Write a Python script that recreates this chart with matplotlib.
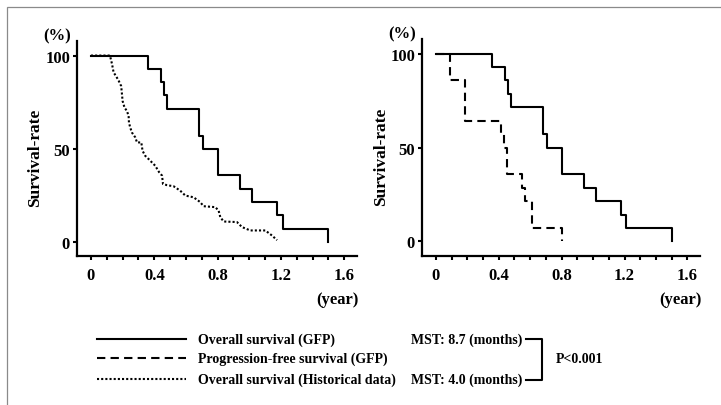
import matplotlib
matplotlib.use("Agg")
import matplotlib.pyplot as plt
from matplotlib.lines import Line2D
from matplotlib.patches import Rectangle
from matplotlib.ticker import MultipleLocator

# Overall survival, GFP group (Kaplan-Meier steps, years / %)
os_gfp_t = [0, 0.36, 0.44, 0.46, 0.48, 0.68, 0.71, 0.80, 0.94, 1.02, 1.175, 1.21, 1.50]
os_gfp_s = [100, 92.9, 85.7, 78.6, 71.4, 57.1, 50.0, 35.7, 28.6, 21.4, 14.3, 7.1, 0]

# Progression-free survival, GFP group
pfs_t = [0, 0.09, 0.185, 0.415, 0.435, 0.45, 0.545, 0.57, 0.61, 0.80]
pfs_s = [100, 85.7, 64.3, 57.1, 50.0, 35.7, 28.6, 21.4, 7.1, 0]

# Overall survival, historical data
hist_t = [0, 0.12, 0.133, 0.143, 0.158, 0.174, 0.191, 0.196, 0.20, 0.212, 0.227, 0.238,
          0.24, 0.248, 0.259, 0.28, 0.291, 0.318, 0.326, 0.343, 0.364, 0.385, 0.406,
          0.43, 0.449, 0.455, 0.48, 0.522, 0.564, 0.596, 0.648, 0.69, 0.711, 0.785,
          0.806, 0.817, 0.838, 0.922, 0.954, 1.006, 1.101, 1.143, 1.175]
hist_s = [100, 100, 95.5, 91.0, 89.0, 86.7, 83.6, 79.2, 75.6, 72.1, 70.3, 67.6,
          64.1, 61.4, 58.7, 56.1, 53.4, 53.4, 48.9, 46.2, 44.5, 42.7, 40.9,
          37.5, 35.6, 31.1, 30.5, 29.9, 27.5, 24.9, 24.0, 21.4, 19.2, 18.7,
          16.9, 13.3, 11.0, 10.7, 8.0, 6.2, 6.2, 3.5, 1.0]

x_ticks = [0, 0.4, 0.8, 1.2, 1.6]
x_tick_labels = ["0", "0.4", "0.8", "1.2", "1.6"]
y_ticks = [0, 50, 100]

legend_labels = ["Overall survival (GFP)", "Progression-free survival (GFP)",
                 "Overall survival (Historical data)"]
mst_labels = ["MST: 8.7 (months)", "MST: 4.0 (months)"]
p_label = "P<0.001"

plt.rcParams["font.family"] = ["Liberation Serif", "DejaVu Serif"]
plt.rcParams["font.weight"] = "bold"

W, H = 721, 406
fig = plt.figure(figsize=(W / 100, H / 100), dpi=100)
fig.patch.set_facecolor("white")


def fx(x):
    return x / W


def fy(y):
    return 1 - y / H


LW = 1.5
DASH = (0, (4, 2.5))
DOT = (0, (1, 1))


def setup_axes(ax):
    ax.set_xlim(-0.088, 1.68)
    ax.set_ylim(-7.5, 107.8)
    for side in ["top", "right"]:
        ax.spines[side].set_visible(False)
    for side in ["left", "bottom"]:
        ax.spines[side].set_linewidth(1.6)
    ax.set_xticks(x_ticks)
    ax.set_xticklabels(x_tick_labels)
    ax.xaxis.set_minor_locator(MultipleLocator(0.1))
    ax.set_yticks(y_ticks)
    ax.tick_params(axis="both", which="both", direction="out", length=3, width=1.5,
                   labelsize=12)
    ax.tick_params(axis="x", pad=5)
    ax.tick_params(axis="y", pad=2)
    ax.set_ylabel("Survival-rate", fontsize=12.5, fontweight="bold")
    ax.yaxis.set_label_coords(-0.12, 0.46)
    ax.annotate("(%)", xy=(0, 1), xycoords="axes fraction", xytext=(-14, 4),
                textcoords="offset points", ha="center", va="center", fontsize=12)
    ax.annotate("(year)", xy=(1, 0), xycoords="axes fraction", xytext=(1, -31),
                textcoords="offset points", ha="right", va="center", fontsize=12)


# left panel: GFP vs historical
ax1 = fig.add_axes([fx(77), fy(257), fx(280), 215 / H])
ax1.step(os_gfp_t, os_gfp_s, where="post", color="black", lw=LW)
ax1.plot(hist_t, hist_s, color="black", lw=LW, linestyle=DOT)
setup_axes(ax1)

# right panel: OS vs PFS in GFP group
ax2 = fig.add_axes([fx(422), fy(256.5), fx(278), 216.5 / H])
ax2.step(os_gfp_t, os_gfp_s, where="post", color="black", lw=LW)
ax2.step(pfs_t, pfs_s, where="post", color="black", lw=LW, linestyle=DASH)
setup_axes(ax2)

# legend drawn by hand
rows = [340, 359, 380]
styles = ["-", (0, (4, 2.5)), (0, (1, 1))]
for y, ls, lab in zip(rows, styles, legend_labels):
    fig.add_artist(Line2D([fx(97), fx(186)], [fy(y), fy(y)], color="black", lw=LW,
                          linestyle=ls, transform=fig.transFigure))
    fig.text(fx(198), fy(y), lab, ha="left", va="center", fontsize=10)

fig.text(fx(411), fy(rows[0]), mst_labels[0], ha="left", va="center", fontsize=10)
fig.text(fx(411), fy(rows[2]), mst_labels[1], ha="left", va="center", fontsize=10)

# bracket for the p value
fig.add_artist(Line2D([fx(526), fx(542), fx(542), fx(526)],
                      [fy(340), fy(340), fy(381), fy(381)],
                      color="black", lw=1.5, transform=fig.transFigure))
fig.text(fx(556), fy(360), p_label, ha="left", va="center", fontsize=10)

# thin frame round the figure (top and left edges visible)
fig.add_artist(Rectangle((fx(7), -0.02), 1.1, fy(8) + 0.02, transform=fig.transFigure,
                         fill=False, edgecolor="#8a8a8a", lw=0.9))

fig.savefig("out.png", dpi=100)
